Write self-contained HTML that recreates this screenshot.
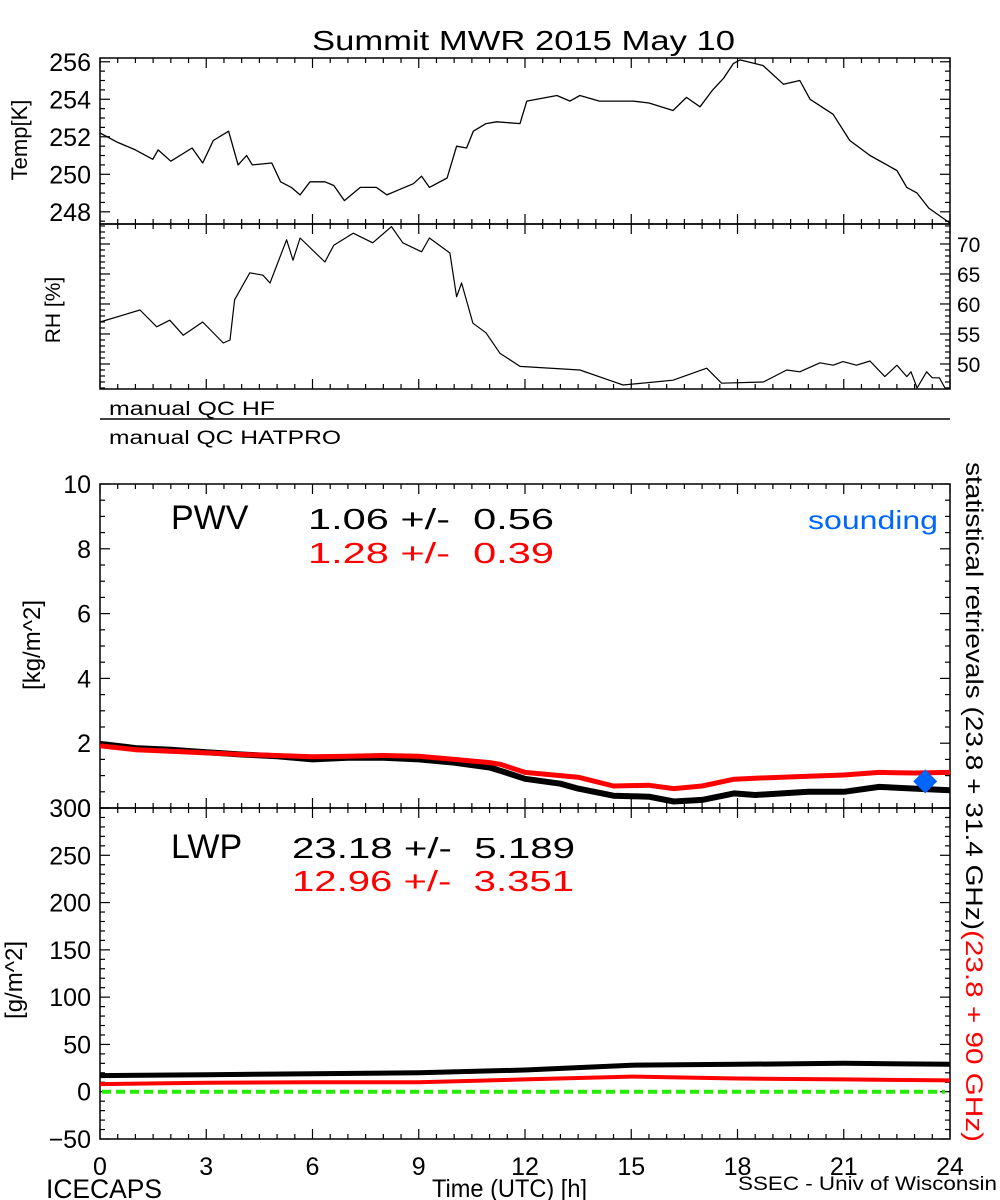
<!DOCTYPE html>
<html><head><meta charset="utf-8"><style>
html,body{margin:0;padding:0;background:#fff;}
svg{display:block;font-family:"Liberation Sans",sans-serif;}
text{white-space:pre;}
</style></head><body>
<svg id="chart" width="1000" height="1200" viewBox="0 0 1000 1200" xmlns="http://www.w3.org/2000/svg">
<text x="312" y="50" font-size="28" textLength="423" lengthAdjust="spacingAndGlyphs">Summit MWR 2015 May 10</text>
<g id="g"></g>
</svg>
<script>
// ---- data ----
const tempT=[0,0.5,1,1.49,1.64,2.0,2.6,2.9,3.2,3.63,3.9,4.14,4.3,4.85,5.1,5.4,5.65,5.93,6.35,6.6,6.9,7.35,7.8,8.1,8.47,8.85,9.08,9.3,9.8,10.07,10.35,10.54,10.9,11.2,11.86,12.05,12.9,13.27,13.55,14.1,15.05,15.5,16.18,16.56,16.94,17.3,17.6,17.88,18.07,18.72,19.3,19.76,20.05,20.7,21.17,21.74,22.5,22.78,23.07,23.4,24];
const tempV=[252.2,251.7,251.3,250.8,251.3,250.7,251.4,250.6,251.8,252.3,250.5,251.0,250.5,250.6,249.6,249.3,248.9,249.6,249.6,249.4,248.6,249.3,249.3,248.9,249.2,249.5,249.9,249.3,249.8,251.5,251.4,252.3,252.7,252.8,252.7,253.9,254.2,253.9,254.2,253.9,253.9,253.8,253.4,254.1,253.6,254.5,255.1,255.9,256.1,255.8,254.8,255.0,254.0,253.2,251.8,251.0,250.2,249.3,249.0,248.2,247.4];
const rhT=[0,1.13,1.6,1.97,2.35,2.9,3.48,3.67,3.8,4.23,4.6,4.8,5.27,5.45,5.65,6.35,6.6,7.15,7.7,8.23,8.55,9.08,9.3,9.88,10.07,10.21,10.53,10.9,11.29,11.86,13.55,14.77,16.18,17.13,17.55,18.73,19.39,19.76,20.33,20.7,20.98,21.36,21.74,22.16,22.5,22.78,22.9,23.07,23.34,23.5,23.7,23.86,24];
const rhV=[57.0,59.0,56.2,57.3,54.8,57.0,53.5,54.0,60.7,65.2,64.8,63.5,70.7,67.3,71.0,67.0,69.8,71.8,70.2,72.9,70.2,68.7,71.0,68.5,61.2,63.5,56.8,55.2,51.8,49.6,49.0,46.5,47.3,49.3,46.8,47.0,49.0,48.7,50.2,49.8,50.4,49.8,50.5,47.9,49.8,47.9,48.7,46.0,48.7,47.7,47.7,46.0,46.0];
const pwvT=[0,1,2,3,4,5,6,7,8,9,10,11,11.3,12,13,13.5,14.5,15.5,16.2,17,17.9,18.5,20,21,22,23,24];
const pwvBlack=[1.98,1.85,1.8,1.72,1.65,1.6,1.5,1.55,1.55,1.5,1.4,1.25,1.15,0.9,0.75,0.6,0.38,0.35,0.2,0.25,0.45,0.4,0.5,0.5,0.65,0.6,0.55];
const pwvRed=[1.92,1.8,1.75,1.7,1.65,1.62,1.58,1.6,1.62,1.6,1.5,1.4,1.35,1.1,1.0,0.95,0.68,0.7,0.6,0.68,0.89,0.92,0.98,1.02,1.1,1.08,1.1];
const soundingT=[23.3];
const soundingV=[0.82];
const lwpT=[0,3,6,9,12,15,18,21,24];
const lwpBlack=[17,18,19,20,23,28,29,30,29];
const lwpRed=[8,9.5,10,10,13,16,14,13,12];
const xTicks=[0,3,6,9,12,15,18,21,24];
const tempTicks=[248,250,252,254,256];
const rhTicks=[50,55,60,65,70];
const pwvTicks=[0,2,4,6,8,10];
const lwpTicks=[-50,0,50,100,150,200,250,300];

// ---- geometry ----
const X0=100,X1=950;
const xs=t=>X0+(X1-X0)*t/24;
const P={
 temp:{top:58,bot:224,min:247.35,max:256.2},
 rh:{top:224,bot:389,min:45.83,max:73.33},
 pwv:{top:484,bot:808,min:0,max:10},
 lwp:{top:808,bot:1139,min:-50,max:300}
};
const ys=(p,v)=>p.bot-(p.bot-p.top)*(v-p.min)/(p.max-p.min);
const NS='http://www.w3.org/2000/svg';
const g=document.getElementById('g');
function el(tag,attrs,parent){const e=document.createElementNS(NS,tag);for(const k in attrs)e.setAttribute(k,attrs[k]);(parent||g).appendChild(e);return e;}
function txt(s,attrs){const e=el('text',attrs);e.textContent=s;return e;}

function frame(p,name,xMinor,yMajor,yMinorStep,leftTicks,rightTicks){
 const r=el('rect',{x:X0,y:p.top,width:X1-X0,height:p.bot-p.top,fill:'none',stroke:'#000','stroke-width':1.5});
 
 
 for(let t=0;t<=24.001;t+=0.5){
  const x=xs(t);const major=Math.abs(t%3)<0.01;const L=major?10:5;
  el('line',{x1:x,y1:p.bot,x2:x,y2:p.bot-L,stroke:'#000','stroke-width':1.2});
  el('line',{x1:x,y1:p.top,x2:x,y2:p.top+L,stroke:'#000','stroke-width':1.2});
 }
 for(let v=Math.ceil(p.min/yMinorStep)*yMinorStep;v<=p.max+1e-6;v+=yMinorStep){
  const y=ys(p,v);const major=yMajor.some(m=>Math.abs(m-v)<1e-6);const L=major?10:5;
  if(leftTicks)el('line',{x1:X0,y1:y,x2:X0+L,y2:y,stroke:'#000','stroke-width':1.2});
  if(rightTicks)el('line',{x1:X1,y1:y,x2:X1-L,y2:y,stroke:'#000','stroke-width':1.2});
 }
}
function series(p,T,V,color,w,name){
 const d=T.map((t,i)=>(i?'L':'M')+xs(t).toFixed(1)+','+ys(p,V[i]).toFixed(1)).join('');
 const e=el('path',{d:d,fill:'none',stroke:color,'stroke-width':w,'stroke-linejoin':'round'});
 
 
}

// temperature panel
frame(P.temp,'temp-panel',true,tempTicks,0.5,true,true);
tempTicks.forEach(v=>{const e=txt(String(v),{x:91,y:ys(P.temp,v)+9,'font-size':25,'text-anchor':'end'});
 });
series(P.temp,tempT,tempV,'#000',1.3,'temp-line');
{const e=txt('Temp[K]',{x:0,y:0,'font-size':22,'text-anchor':'middle',transform:'translate(27,140) rotate(-90)'});
 }

// RH panel
frame(P.rh,'rh-panel',true,rhTicks,1,true,true);
rhTicks.forEach(v=>{const e=txt(String(v),{x:957,y:ys(P.rh,v)+8,'font-size':21});
 });
series(P.rh,rhT,rhV,'#000',1.2,'rh-line');
{const e=txt('RH [%]',{x:0,y:0,'font-size':21,'text-anchor':'middle',transform:'translate(60,310) rotate(-90)'});
 }

// QC
{let e=txt('manual QC HF',{x:109,y:415,'font-size':19,textLength:166,lengthAdjust:'spacingAndGlyphs'});
 e=el('line',{x1:X0,y1:419,x2:X1,y2:419,stroke:'#000','stroke-width':1.5});
 e=txt('manual QC HATPRO',{x:109,y:444,'font-size':19,textLength:232,lengthAdjust:'spacingAndGlyphs'});}

// PWV panel
frame(P.pwv,'pwv-panel',true,pwvTicks,0.5,true,true);
pwvTicks.forEach(v=>{const e=txt(String(v),{x:91,y:ys(P.pwv,v)+9,'font-size':25,'text-anchor':'end'});
 });
series(P.pwv,pwvT,pwvBlack,'#000',6,'pwv-black-line');
series(P.pwv,pwvT,pwvRed,'#ff0000',5,'pwv-red-line');
soundingT.forEach((t,i)=>{const cx=xs(t),cy=ys(P.pwv,soundingV[i]);
 const e=el('polygon',{points:`${cx},${cy-12} ${cx+12},${cy} ${cx},${cy+12} ${cx-12},${cy}`,fill:'#0066ff'});
 });
{let e=txt('[kg/m^2]',{x:0,y:0,'font-size':24,'text-anchor':'middle',transform:'translate(40,645) rotate(-90)'});
 
 e=txt('PWV',{x:171,y:529,'font-size':34});
 e=txt('1.06 +/-  0.56',{x:308,y:529,'font-size':29,textLength:246,lengthAdjust:'spacingAndGlyphs'});
 e=txt('1.28 +/-  0.39',{x:308,y:563,'font-size':29,fill:'#ff0000',textLength:246,lengthAdjust:'spacingAndGlyphs'});
 e=txt('sounding',{x:808,y:529,'font-size':26,fill:'#0066ff',textLength:130,lengthAdjust:'spacingAndGlyphs'});}

// LWP panel
frame(P.lwp,'lwp-panel',true,lwpTicks,10,true,true);
lwpTicks.forEach(v=>{const e=txt(v<0?'\u2212'+Math.abs(v):String(v),{x:91,y:ys(P.lwp,v)+9,'font-size':25,'text-anchor':'end'});
 });
{const e=el('line',{x1:X0+2,y1:ys(P.lwp,0),x2:X1-5,y2:ys(P.lwp,0),stroke:'#22ee00','stroke-width':4,'stroke-dasharray':'9,5'});
 }
series(P.lwp,lwpT,lwpBlack,'#000',5,'lwp-black-line');
series(P.lwp,lwpT,lwpRed,'#ff0000',4,'lwp-red-line');
{let e=txt('[g/m^2]',{x:0,y:0,'font-size':24,'text-anchor':'middle',transform:'translate(22,980) rotate(-90)'});
 
 e=txt('LWP',{x:171,y:858,'font-size':34});
 e=txt('23.18 +/-  5.189',{x:292,y:858,'font-size':29,textLength:283,lengthAdjust:'spacingAndGlyphs'});
 e=txt('12.96 +/-  3.351',{x:292,y:891,'font-size':29,fill:'#ff0000',textLength:282,lengthAdjust:'spacingAndGlyphs'});}

// x axis labels
xTicks.forEach(t=>{const e=txt(String(t),{x:xs(t),y:1175,'font-size':25,'text-anchor':'middle'});
 });
{let e=txt('ICECAPS',{x:46,y:1198,'font-size':27,textLength:116,lengthAdjust:'spacingAndGlyphs'});
 e=txt('Time (UTC) [h]',{x:432,y:1197,'font-size':25,textLength:155,lengthAdjust:'spacingAndGlyphs'});
 e=txt('SSEC - Univ of Wisconsin',{x:738,y:1190,'font-size':19,textLength:259,lengthAdjust:'spacingAndGlyphs'});}

// right vertical label
{const t=el('text',{x:0,y:0,'font-size':24,transform:'translate(966,462) rotate(90)'});
 
 const a=el('tspan',{textLength:468,lengthAdjust:'spacingAndGlyphs'},t);a.textContent='statistical retrievals (23.8 + 31.4 GHz)';
 const b=el('tspan',{fill:'#ff0000',textLength:212,lengthAdjust:'spacingAndGlyphs'},t);b.textContent='(23.8 + 90 GHz)';}
</script>
</body></html>
